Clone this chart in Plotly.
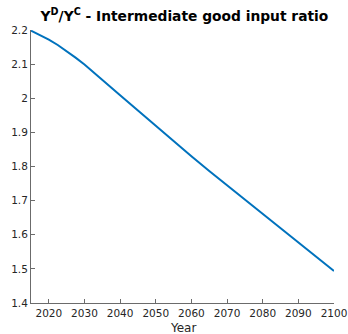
import plotly.graph_objects as go

years = [2015, 2017.5, 2020, 2022.5, 2025, 2027.5, 2030, 2035, 2040, 2045, 2050,
         2055, 2060, 2065, 2070, 2075, 2080, 2085, 2090, 2095, 2100]
ratio = [2.198, 2.186, 2.172, 2.156, 2.138, 2.119, 2.099, 2.055, 2.009, 1.964, 1.919,
         1.874, 1.830, 1.787, 1.745, 1.703, 1.661, 1.620, 1.578, 1.536, 1.494]

x_ticks = [2020, 2030, 2040, 2050, 2060, 2070, 2080, 2090, 2100]
y_ticks = [1.4, 1.5, 1.6, 1.7, 1.8, 1.9, 2.0, 2.1, 2.2]
y_labels = ["1.4", "1.5", "1.6", "1.7", "1.8", "1.9", "2", "2.1", "2.2"]

fig = go.Figure()
fig.add_trace(go.Scatter(x=years, y=ratio, mode="lines",
                         line=dict(color="#0072BD", width=2),
                         showlegend=False, hoverinfo="skip"))

axis_col = "#6b6b6b"
fig.update_layout(
    width=348, height=334,
    margin=dict(l=31, r=14, t=30, b=31),
    paper_bgcolor="white", plot_bgcolor="white",
    font=dict(family="DejaVu Sans", size=10, color="#262626"),
    title=dict(text="Y<sup>D</sup>/Y<sup>C</sup> - Intermediate good input ratio",
               x=0.53, xanchor="center", y=0.952, yanchor="middle",
               font=dict(family="DejaVu Sans", size=13.8, color="black", weight="bold")),
    xaxis=dict(range=[2015, 2100], tickvals=x_ticks, ticks="inside", ticklen=4,
               tickcolor=axis_col, showline=True, linecolor=axis_col, linewidth=1,
               showgrid=False, zeroline=False, automargin=False,
               tickfont=dict(size=10.5, color="#262626")),
    yaxis=dict(range=[1.4, 2.2], tickvals=y_ticks, ticktext=y_labels, ticks="inside",
               ticklen=4, tickcolor=axis_col, showline=True, linecolor=axis_col,
               linewidth=1, showgrid=False, zeroline=False, automargin=False,
               tickfont=dict(size=10.5, color="#262626")),
    annotations=[dict(text="Year", xref="paper", yref="paper", x=0.5, y=-0.058,
                      xanchor="center", yanchor="top", showarrow=False,
                      font=dict(size=12, color="#262626"))],
)

fig.write_html("out.html")
